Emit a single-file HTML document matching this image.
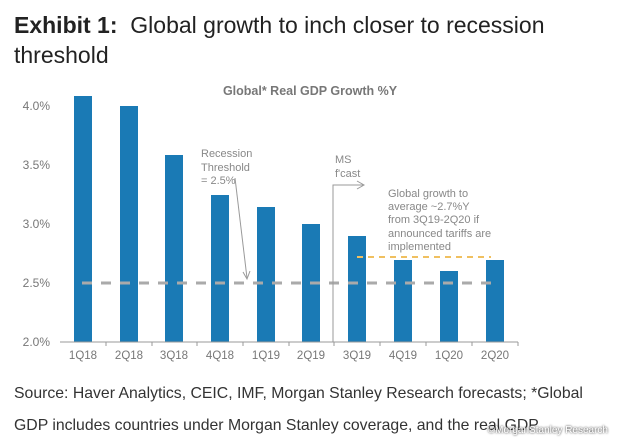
<!DOCTYPE html>
<html><head><style>
body{margin:0;width:620px;height:447px;background:#fff;overflow:hidden;font-family:"Liberation Sans",Arial,sans-serif;}
.t{position:absolute;left:14px;top:10px;font-size:23px;color:#222;line-height:30px;}
.f{position:absolute;left:14px;font-size:15.8px;color:#333;}
</style></head><body>
<div class="t"><b>Exhibit 1:</b>&nbsp; Global growth to inch closer to recession<br>threshold</div>
<svg width="620" height="447" style="position:absolute;left:0;top:0" font-family="Liberation Sans, Arial, sans-serif">
<text x="310" y="95" text-anchor="middle" font-size="12.5" font-weight="bold" fill="#777">Global* Real GDP Growth %Y</text>
<g font-size="12" fill="#777" text-anchor="end">
<text x="50" y="110">4.0%</text><text x="50" y="169">3.5%</text><text x="50" y="228">3.0%</text><text x="50" y="287">2.5%</text><text x="50" y="346">2.0%</text></g>
<g fill="#1a7ab5">
<rect x="74" y="96" width="18" height="246"/><rect x="120" y="106" width="18" height="236"/>
<rect x="165" y="155" width="18" height="187"/><rect x="211" y="195" width="18" height="147"/>
<rect x="257" y="207" width="18" height="135"/><rect x="302" y="224" width="18" height="118"/>
<rect x="348" y="236" width="18" height="106"/><rect x="394" y="260" width="18" height="82"/>
<rect x="440" y="271" width="18" height="71"/><rect x="486" y="260" width="18" height="82"/></g>
<line x1="60" y1="342" x2="518" y2="342" stroke="#999"/>
<g stroke="#999"><line x1="106" y1="342" x2="106" y2="346"/><line x1="152" y1="342" x2="152" y2="346"/><line x1="197" y1="342" x2="197" y2="346"/><line x1="243" y1="342" x2="243" y2="346"/><line x1="289" y1="342" x2="289" y2="346"/><line x1="334" y1="342" x2="334" y2="346"/><line x1="380" y1="342" x2="380" y2="346"/><line x1="426" y1="342" x2="426" y2="346"/><line x1="472" y1="342" x2="472" y2="346"/><line x1="518" y1="342" x2="518" y2="346"/></g>
<g font-size="11.5" fill="#777" text-anchor="middle">
<text x="83" y="359">1Q18</text><text x="129" y="359">2Q18</text><text x="174" y="359">3Q18</text><text x="220" y="359">4Q18</text><text x="266" y="359">1Q19</text><text x="311" y="359">2Q19</text><text x="357" y="359">3Q19</text><text x="403" y="359">4Q19</text><text x="449" y="359">1Q20</text><text x="495" y="359">2Q20</text></g>
<line x1="82" y1="283" x2="496" y2="283" stroke="#aaa" stroke-width="3" stroke-dasharray="10,9"/>
<line x1="357" y1="257" x2="491" y2="257" stroke="#f0c060" stroke-width="2" stroke-dasharray="6,5"/>
<polyline points="333,342 333,185 363,185" fill="none" stroke="#999"/>
<polyline points="357,181 364,185 357,189" fill="none" stroke="#999"/>
<line x1="235" y1="178" x2="247" y2="278" stroke="#999"/>
<polyline points="243,272 247,279 250,271" fill="none" stroke="#999"/>
<g font-size="11" fill="#888">
<text x="201" y="157">Recession</text><text x="201" y="171">Threshold</text><text x="201" y="184">= 2.5%</text>
<text x="335" y="163">MS</text><text x="335" y="177">f'cast</text>
<text x="388" y="197">Global growth to</text><text x="388" y="210">average ~2.7%Y</text><text x="388" y="223">from 3Q19-2Q20 if</text><text x="388" y="237">announced tariffs are</text><text x="388" y="250">implemented</text></g>
</svg>
<div class="f" style="top:385px">Source: Haver Analytics, CEIC, IMF, Morgan Stanley Research forecasts; *Global</div>
<div class="f" style="top:417px">GDP includes countries under Morgan Stanley coverage, and the real GDP</div>
<div style="position:absolute;right:12px;top:425px;font-size:10px;color:#fff;text-shadow:0 0 2px #000">©MorganStanley Research</div>
</body></html>
